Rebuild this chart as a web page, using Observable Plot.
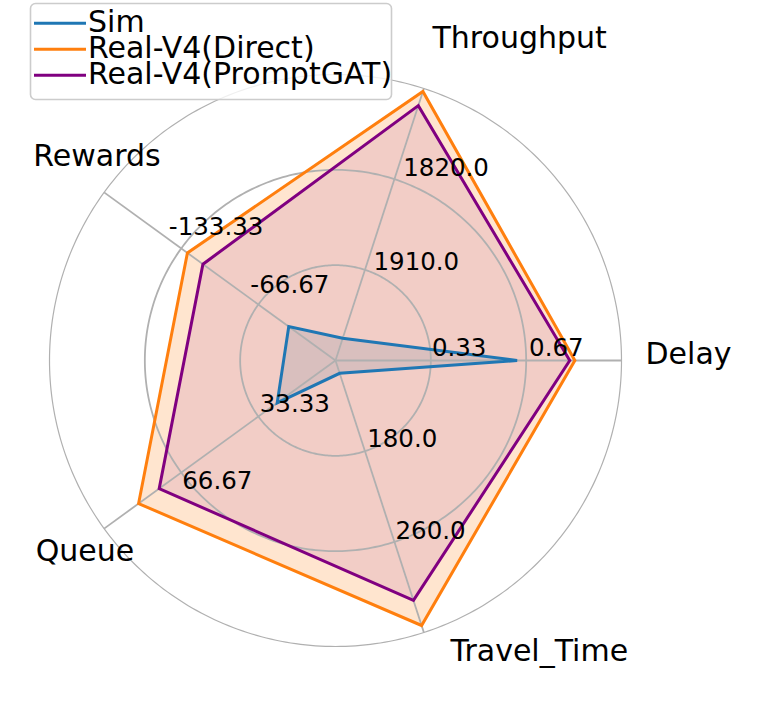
<!DOCTYPE html>
<html>
<head>
<meta charset="utf-8">
<script src="https://cdn.jsdelivr.net/npm/d3@7"></script>
<script src="https://cdn.jsdelivr.net/npm/@observablehq/plot@0.6"></script>
<style>
  body { margin: 0; background: #fff; font-family: "DejaVu Sans", sans-serif; }
  #wrap { position: relative; width: 780px; height: 720px; }
  #wrap > svg.legend { position: absolute; left: 0; top: 0; pointer-events: none; }
</style>
</head>
<body>
<div id="wrap"></div>
<script>
// ---- data ----
const axisNames = ["Delay", "Throughput", "Rewards", "Queue", "Travel_Time"];
const axisCenterValue = [0, 2000, 0, 0, 100];     // value at the centre
const axisEdgeValue = [1, 1730, -200, 100, 340];  // value at the outer ring
const tickValues = [[0.33, 0.67], [1910.0, 1820.0], [-66.67, -133.33], [33.33, 66.67], [180.0, 260.0]];
const tickLabels = [["0.33", "0.67"], ["1910.0", "1820.0"], ["-66.67", "-133.33"], ["33.33", "66.67"], ["180.0", "260.0"]];
const seriesNames = ["Sim", "Real-V4(Direct)", "Real-V4(PromptGAT)"];
const simValues = [0.635, 1978, -40.4, 25.2, 111.3];
const directValues = [0.837, 1733, -128, 85.1, 333.8];
const promptGATValues = [0.819, 1747, -114.6, 76.2, 311.7];
const seriesValues = [simValues, directValues, promptGATValues];

// ---- styles / layout ----
const seriesColors = ["#1f77b4", "#ff7f0e", "#800080"];
const fillOpacity = [0.15, 0.2, 0.1];
const gridColor = "#b0b0b0";
const PX = 286; // pixels per unit radius
// nudges in px (right, down) for tick labels: [left edge, baseline] relative to ring point
const tickNudge = [[[2, -5], [2, -5]], [[8.5, 0], [8.8, -3.6]], [[-8, -11], [-12.4, -13]], [[1.4, -5], [1, 16.6]], [[2.2, -4], [1.1, -3]]];
// category label placement at r = 1.1
const catLayout = [
  {anchor: "start", dx: -4.6, dy: -6.5},
  {anchor: "start", dx: -0.2, dy: -23.3},
  {anchor: "middle", dx: 16, dy: -19.6},
  {anchor: "middle", dx: 4, dy: 6.3},
  {anchor: "start", dx: 17.8, dy: -8.7}
];

const n = axisNames.length;
const angle = i => (2 * Math.PI * i) / n;
const norm = (i, v) => (v - axisCenterValue[i]) / (axisEdgeValue[i] - axisCenterValue[i]);

// gridlines
const ringPts = [];
for (const k of [1 / 3, 2 / 3]) {
  for (let a = 0; a <= 360; a += 1) ringPts.push({ring: k, x: k * Math.cos(a * Math.PI / 180), y: k * Math.sin(a * Math.PI / 180)});
}
const outerPts = d3.range(0, 361).map(a => ({x: Math.cos(a * Math.PI / 180), y: Math.sin(a * Math.PI / 180)}));
const spokes = axisNames.map((name, i) => ({name, x: Math.cos(angle(i)), y: Math.sin(angle(i))}));

// series polygons
const seriesPts = [];
seriesNames.forEach((s, si) => {
  seriesValues[si].forEach((v, i) => {
    const r = norm(i, v);
    seriesPts.push({series: s, si, x: r * Math.cos(angle(i)), y: r * Math.sin(angle(i))});
  });
});

// tick labels
const ticks = [];
tickValues.forEach((vals, i) => {
  vals.forEach((v, j) => {
    const r = norm(i, v);
    const [nx, ny] = tickNudge[i][j];
    ticks.push({text: tickLabels[i][j], x: r * Math.cos(angle(i)) + nx / PX, y: r * Math.sin(angle(i)) - ny / PX});
  });
});

const marks = [];
seriesNames.forEach((s, si) => {
  const pts = seriesPts.filter(d => d.si === si);
  marks.push(Plot.line(pts, {x: "x", y: "y", curve: "linear-closed", fill: seriesColors[si], fillOpacity: fillOpacity[si], stroke: "none"}));
});
marks.push(
  Plot.line(ringPts, {x: "x", y: "y", z: "ring", stroke: gridColor, strokeWidth: 1.8}),
  Plot.line(outerPts, {x: "x", y: "y", stroke: gridColor, strokeWidth: 1.2}),
  Plot.link(spokes, {x1: 0, y1: 0, x2: "x", y2: "y", stroke: gridColor, strokeWidth: 1.8})
);
seriesNames.forEach((s, si) => {
  const pts = seriesPts.filter(d => d.si === si);
  marks.push(Plot.line(pts, {x: "x", y: "y", curve: "linear-closed", stroke: seriesColors[si], strokeWidth: 3, strokeLinejoin: "miter", strokeMiterlimit: 10}));
});
marks.push(Plot.text(ticks, {x: "x", y: "y", text: "text", textAnchor: "start", lineAnchor: "bottom", fontSize: 24.5, fill: "black"}));
axisNames.forEach((name, i) => {
  const L = catLayout[i];
  marks.push(Plot.text([{name, x: 1.1 * Math.cos(angle(i)), y: 1.1 * Math.sin(angle(i))}], {
    x: "x", y: "y", text: "name", textAnchor: L.anchor, lineAnchor: "middle", dx: L.dx, dy: L.dy, fontSize: 30, fill: "black"
  }));
});

const chart = Plot.plot({
  width: 780,
  height: 720,
  marginLeft: 335 - PX,
  marginRight: 780 - 335 - PX,
  marginTop: 360 - PX,
  marginBottom: 720 - 360 - PX,
  x: {domain: [-1, 1], axis: null},
  y: {domain: [-1, 1], axis: null},
  style: {fontFamily: "DejaVu Sans", background: "white", overflow: "visible"},
  marks
});
const wrap = document.getElementById("wrap");
wrap.appendChild(chart);

// legend overlay (upper left, semi-transparent frame)
const leg = d3.select(wrap).append("svg").attr("class", "legend").attr("width", 780).attr("height", 720);
leg.append("rect").attr("x", 30.5).attr("y", 3.5).attr("width", 361).attr("height", 96).attr("rx", 5)
  .attr("fill", "rgba(255,255,255,0.8)").attr("stroke", "#cccccc").attr("stroke-width", 1.6);
seriesNames.forEach((s, si) => {
  const yLine = 23.3 + si * 26;
  leg.append("line").attr("x1", 34).attr("x2", 86).attr("y1", yLine).attr("y2", yLine)
    .attr("stroke", seriesColors[si]).attr("stroke-width", 3);
  leg.append("text").attr("x", 88).attr("y", yLine + 8.5).text(s)
    .attr("font-family", "DejaVu Sans").attr("font-size", 30).attr("fill", "black");
});
</script>
</body>
</html>
